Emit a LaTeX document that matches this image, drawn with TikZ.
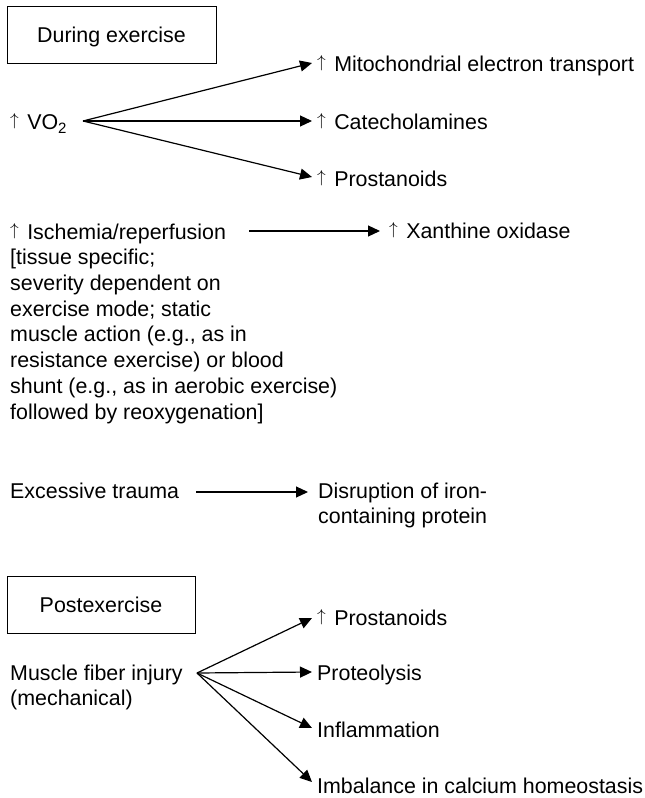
\documentclass[tikz,border=0pt]{standalone}
\usepackage{fontspec}
\setmainfont{Liberation Sans}
\usetikzlibrary{arrows.meta}
\newcommand{\upmark}{\raisebox{3.3pt}{\fontsize{17}{20}\selectfont$\uparrow$}\kern2.5pt}

\begin{document}
\begin{tikzpicture}[x=1pt,y=-1pt,
	txt/.style={anchor=base west, inner sep=0pt, align=left, font=\fontsize{21.4}{25.7}\selectfont},
	block/.style={txt, anchor=north west},
	res/.style={txt, inner xsep=5pt},
	phase/.style={draw, line width=1pt, inner sep=0pt, minimum height=57pt, text height=16pt, text depth=0pt, font=\fontsize{21.4}{25.7}\selectfont},
	link/.style={line width=1.2pt, -{Triangle[length=12pt,width=11pt]}}]
	\useasboundingbox (0,0) rectangle (645,798);

	% during exercise
	\node[phase, minimum width=209pt] (during) at (111.5,34.5) {During exercise};
	\node[txt] (vo2) at (10,129) {\upmark{} VO\textsubscript{\raisebox{-1pt}{2}}};
	\coordinate (vo2out) at (83,121);
	\node[res] (mito) at (312,71) {\upmark{} Mitochondrial electron transport};
	\node[res] (catechol) at (312,129) {\upmark{} Catecholamines};
	\node[res] (prost) at (312,186) {\upmark{} Prostanoids};
	\draw[link] (vo2out) -- ([yshift=8pt]mito.base west);
	\draw[link] (vo2out) -- ([yshift=8pt]catechol.base west);
	\draw[link] (vo2out) -- ([yshift=9pt]prost.base west);

	% first line baseline at 239 (strut is 18pt high)
	\node[block] (isch) at (10,221) {\strut\upmark{} Ischemia/reperfusion\\{[}tissue specific;\\severity dependent on\\exercise mode; static\\muscle action (e.g., as in\\resistance exercise) or blood\\shunt (e.g., as in aerobic exercise)\\followed by reoxygenation]};
	\coordinate (ischout) at (249,231);
	\node[res, inner xsep=9pt] (xanthine) at (380,238) {\upmark{} Xanthine oxidase};
	\draw[link] (ischout) -- ([yshift=7pt]xanthine.base west);

	\node[txt] (trauma) at (10,498) {Excessive trauma};
	\coordinate (traumaout) at (196,492);
	\node[block, inner xsep=10pt] (iron) at (308,480) {\strut Disruption of iron-\\containing protein};
	\draw[link] (traumaout) -- ([yshift=-12pt]iron.north west);

	% post exercise
	\node[phase, minimum width=188pt] (post) at (101,604.5) {Postexercise};
	\node[block] (injury) at (10,662) {\strut Muscle fiber injury\\(mechanical)};
	\coordinate (injout) at (197,673);
	\node[res] (prost2) at (312,625) {\upmark{} Prostanoids};
	\node[res] (proteo) at (312,680) {Proteolysis};
	\node[res] (inflam) at (312,737) {Inflammation};
	\node[res] (imbal) at (312,793) {Imbalance in calcium homeostasis};
	\draw[link] (injout) -- ([yshift=7pt]prost2.base west);
	\draw[link] (injout) -- ([yshift=8pt]proteo.base west);
	\draw[link] (injout) -- ([yshift=9pt]inflam.base west);
	\draw[link] (injout) -- ([yshift=11pt]imbal.base west);
\end{tikzpicture}
\end{document}
